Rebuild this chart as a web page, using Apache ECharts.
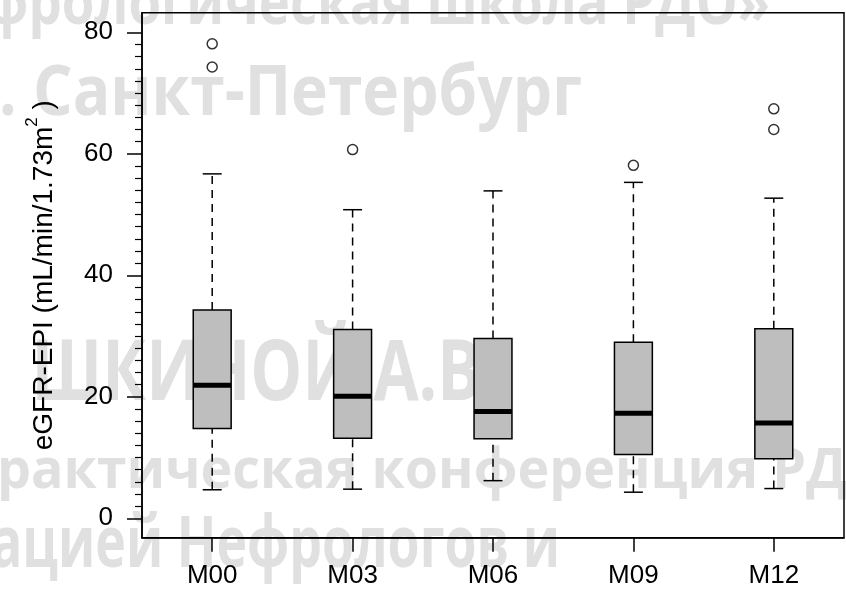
<!DOCTYPE html>
<html>
<head>
<meta charset="utf-8">
<script src="https://cdn.jsdelivr.net/npm/echarts@6/dist/echarts.min.js"></script>
<style>
html,body{margin:0;padding:0;background:#fff;}
#chart{width:846px;height:590px;}
</style>
</head>
<body>
<div id="chart"></div>
<script>
// ---- data ----
const categories = ['M00', 'M03', 'M06', 'M09', 'M12'];
const lowerWhisker = [4.7, 4.8, 6.2, 4.3, 4.9];
const q1 = [14.8, 13.2, 13.1, 10.5, 9.8];
const median = [21.9, 20.1, 17.6, 17.3, 15.7];
const q3 = [34.3, 31.1, 29.6, 29.0, 31.2];
const upperWhisker = [56.7, 50.8, 53.9, 55.3, 52.7];
const outliers = [['M00', 78.1], ['M00', 74.3], ['M03', 60.7], ['M09', 58.1], ['M12', 67.4], ['M12', 64.0]];
const yMajorTicks = [0, 20, 40, 60, 80];
const yMinorTicks = [2,4,6,8,10,12,14,16,18,22,24,26,28,30,32,34,36,38,42,44,46,48,50,52,54,56,58,62,64,66,68,70,72,74,76,78];
const yAxisTitle = 'eGFR-EPI (mL/min/1.73m';
const watermarkLines = [
  'Нефрологическая школа РДО»',
  'г. Санкт-Петербург',
  'ШКИНОЙ А.В.',
  'практическая конференция РДО',
  'ассоциацией Нефрологов и'
];

const FONT = '"Liberation Sans", Arial, Helvetica, sans-serif';
const WM_FONT = '"Open Sans", "Noto Sans", sans-serif';
const yMin = -3.19, yMax = 83.23;

const boxData = categories.map((c, i) => [i, lowerWhisker[i], q1[i], median[i], q3[i], upperWhisker[i]]);

function wm(text, x, y, size, align, sx) {
  return {
    type: 'text', x: x, y: y, z: 0, scaleX: sx, silent: true,
    style: {
      text: text, fontFamily: WM_FONT, fontWeight: 'bold', fontSize: size,
      fill: '#e0e0e0', align: align, verticalAlign: 'middle'
    }
  };
}

const chart = echarts.init(document.getElementById('chart'), null, {renderer: 'canvas'});
chart.setOption({
  backgroundColor: '#fff',
  animation: false,
  graphic: [
    wm(watermarkLines[0], 770, 6, 62, 'right', 0.85),
    wm(watermarkLines[1], 582, 95, 70, 'right', 0.89),
    wm(watermarkLines[2], 500, 376, 84, 'right', 0.78),
    wm(watermarkLines[3], -38, 472, 56, 'left', 0.96),
    wm(watermarkLines[4], 560, 546, 72, 'right', 0.72)
  ],
  grid: {
    left: 142, top: 12.7, width: 702, height: 525,
    show: true, borderColor: '#000', borderWidth: 1.5, backgroundColor: 'transparent', z: 3
  },
  xAxis: {
    type: 'category', data: categories, boundaryGap: true,
    axisLine: {show: true, onZero: false, lineStyle: {color: '#000', width: 1.5}},
    axisTick: {show: true, alignWithLabel: true, length: 14, lineStyle: {color: '#000', width: 1.5}},
    axisLabel: {color: '#000', fontSize: 26, fontFamily: FONT, margin: 25},
    splitLine: {show: false}
  },
  yAxis: [
    {
      type: 'value', min: yMin, max: yMax, position: 'left',
      name: '{a|' + yAxisTitle + '}{s|2}{a| )}',
      nameLocation: 'middle', nameRotate: 90, nameGap: 84,
      nameTextStyle: {
        rich: {
          a: {fontSize: 28, fontFamily: FONT, color: '#000', lineHeight: 34, verticalAlign: 'bottom'},
          s: {fontSize: 17, fontFamily: FONT, color: '#000', lineHeight: 34, verticalAlign: 'top'}
        }
      },
      axisLine: {show: true, lineStyle: {color: '#000', width: 1.5}},
      axisTick: {show: true, inside: false, length: 15, customValues: yMajorTicks, lineStyle: {color: '#000', width: 1.5}},
      axisLabel: {show: true, customValues: yMajorTicks, color: '#000', fontSize: 26, fontFamily: FONT, margin: 29},
      splitLine: {show: false}
    },
    {
      type: 'value', min: yMin, max: yMax, position: 'left', offset: 0,
      axisLine: {show: false},
      axisTick: {show: true, inside: false, length: 7, customValues: yMinorTicks, lineStyle: {color: '#000', width: 1.2}},
      axisLabel: {show: false},
      splitLine: {show: false}
    }
  ],
  series: [
    {
      type: 'custom', name: 'eGFR', z: 5,
      data: boxData,
      encode: {x: 0, y: [1, 2, 3, 4, 5]},
      renderItem: function (params, api) {
        const idx = api.value(0);
        const band = api.size([1, 0])[0];
        const bw = band * 0.27;
        const cap = bw / 2;
        const pLo = api.coord([idx, api.value(1)]);
        const pQ1 = api.coord([idx, api.value(2)]);
        const pMed = api.coord([idx, api.value(3)]);
        const pQ3 = api.coord([idx, api.value(4)]);
        const pHi = api.coord([idx, api.value(5)]);
        const cx = pMed[0];
        const dash = {stroke: '#000', lineWidth: 1.5, lineDash: [8, 6]};
        const solid = {stroke: '#000', lineWidth: 1.5};
        return {
          type: 'group',
          children: [
            {type: 'line', shape: {x1: cx, y1: pQ3[1], x2: cx, y2: pHi[1]}, style: dash},
            {type: 'line', shape: {x1: cx, y1: pLo[1], x2: cx, y2: pQ1[1]}, style: dash},
            {type: 'line', shape: {x1: cx - cap / 2, y1: pHi[1], x2: cx + cap / 2, y2: pHi[1]}, style: solid},
            {type: 'line', shape: {x1: cx - cap / 2, y1: pLo[1], x2: cx + cap / 2, y2: pLo[1]}, style: solid},
            {type: 'rect', shape: {x: cx - bw / 2, y: pQ3[1], width: bw, height: pQ1[1] - pQ3[1]},
              style: {fill: '#bebebe', stroke: '#000', lineWidth: 1.5}},
            {type: 'line', shape: {x1: cx - bw / 2, y1: pMed[1], x2: cx + bw / 2, y2: pMed[1]},
              style: {stroke: '#000', lineWidth: 5}}
          ]
        };
      }
    },
    {
      type: 'scatter', name: 'outliers', z: 6,
      data: outliers,
      symbol: 'circle', symbolSize: 10,
      itemStyle: {color: 'rgba(255,255,255,0)', borderColor: '#000', borderWidth: 1.5}
    }
  ]
});
</script>
</body>
</html>
